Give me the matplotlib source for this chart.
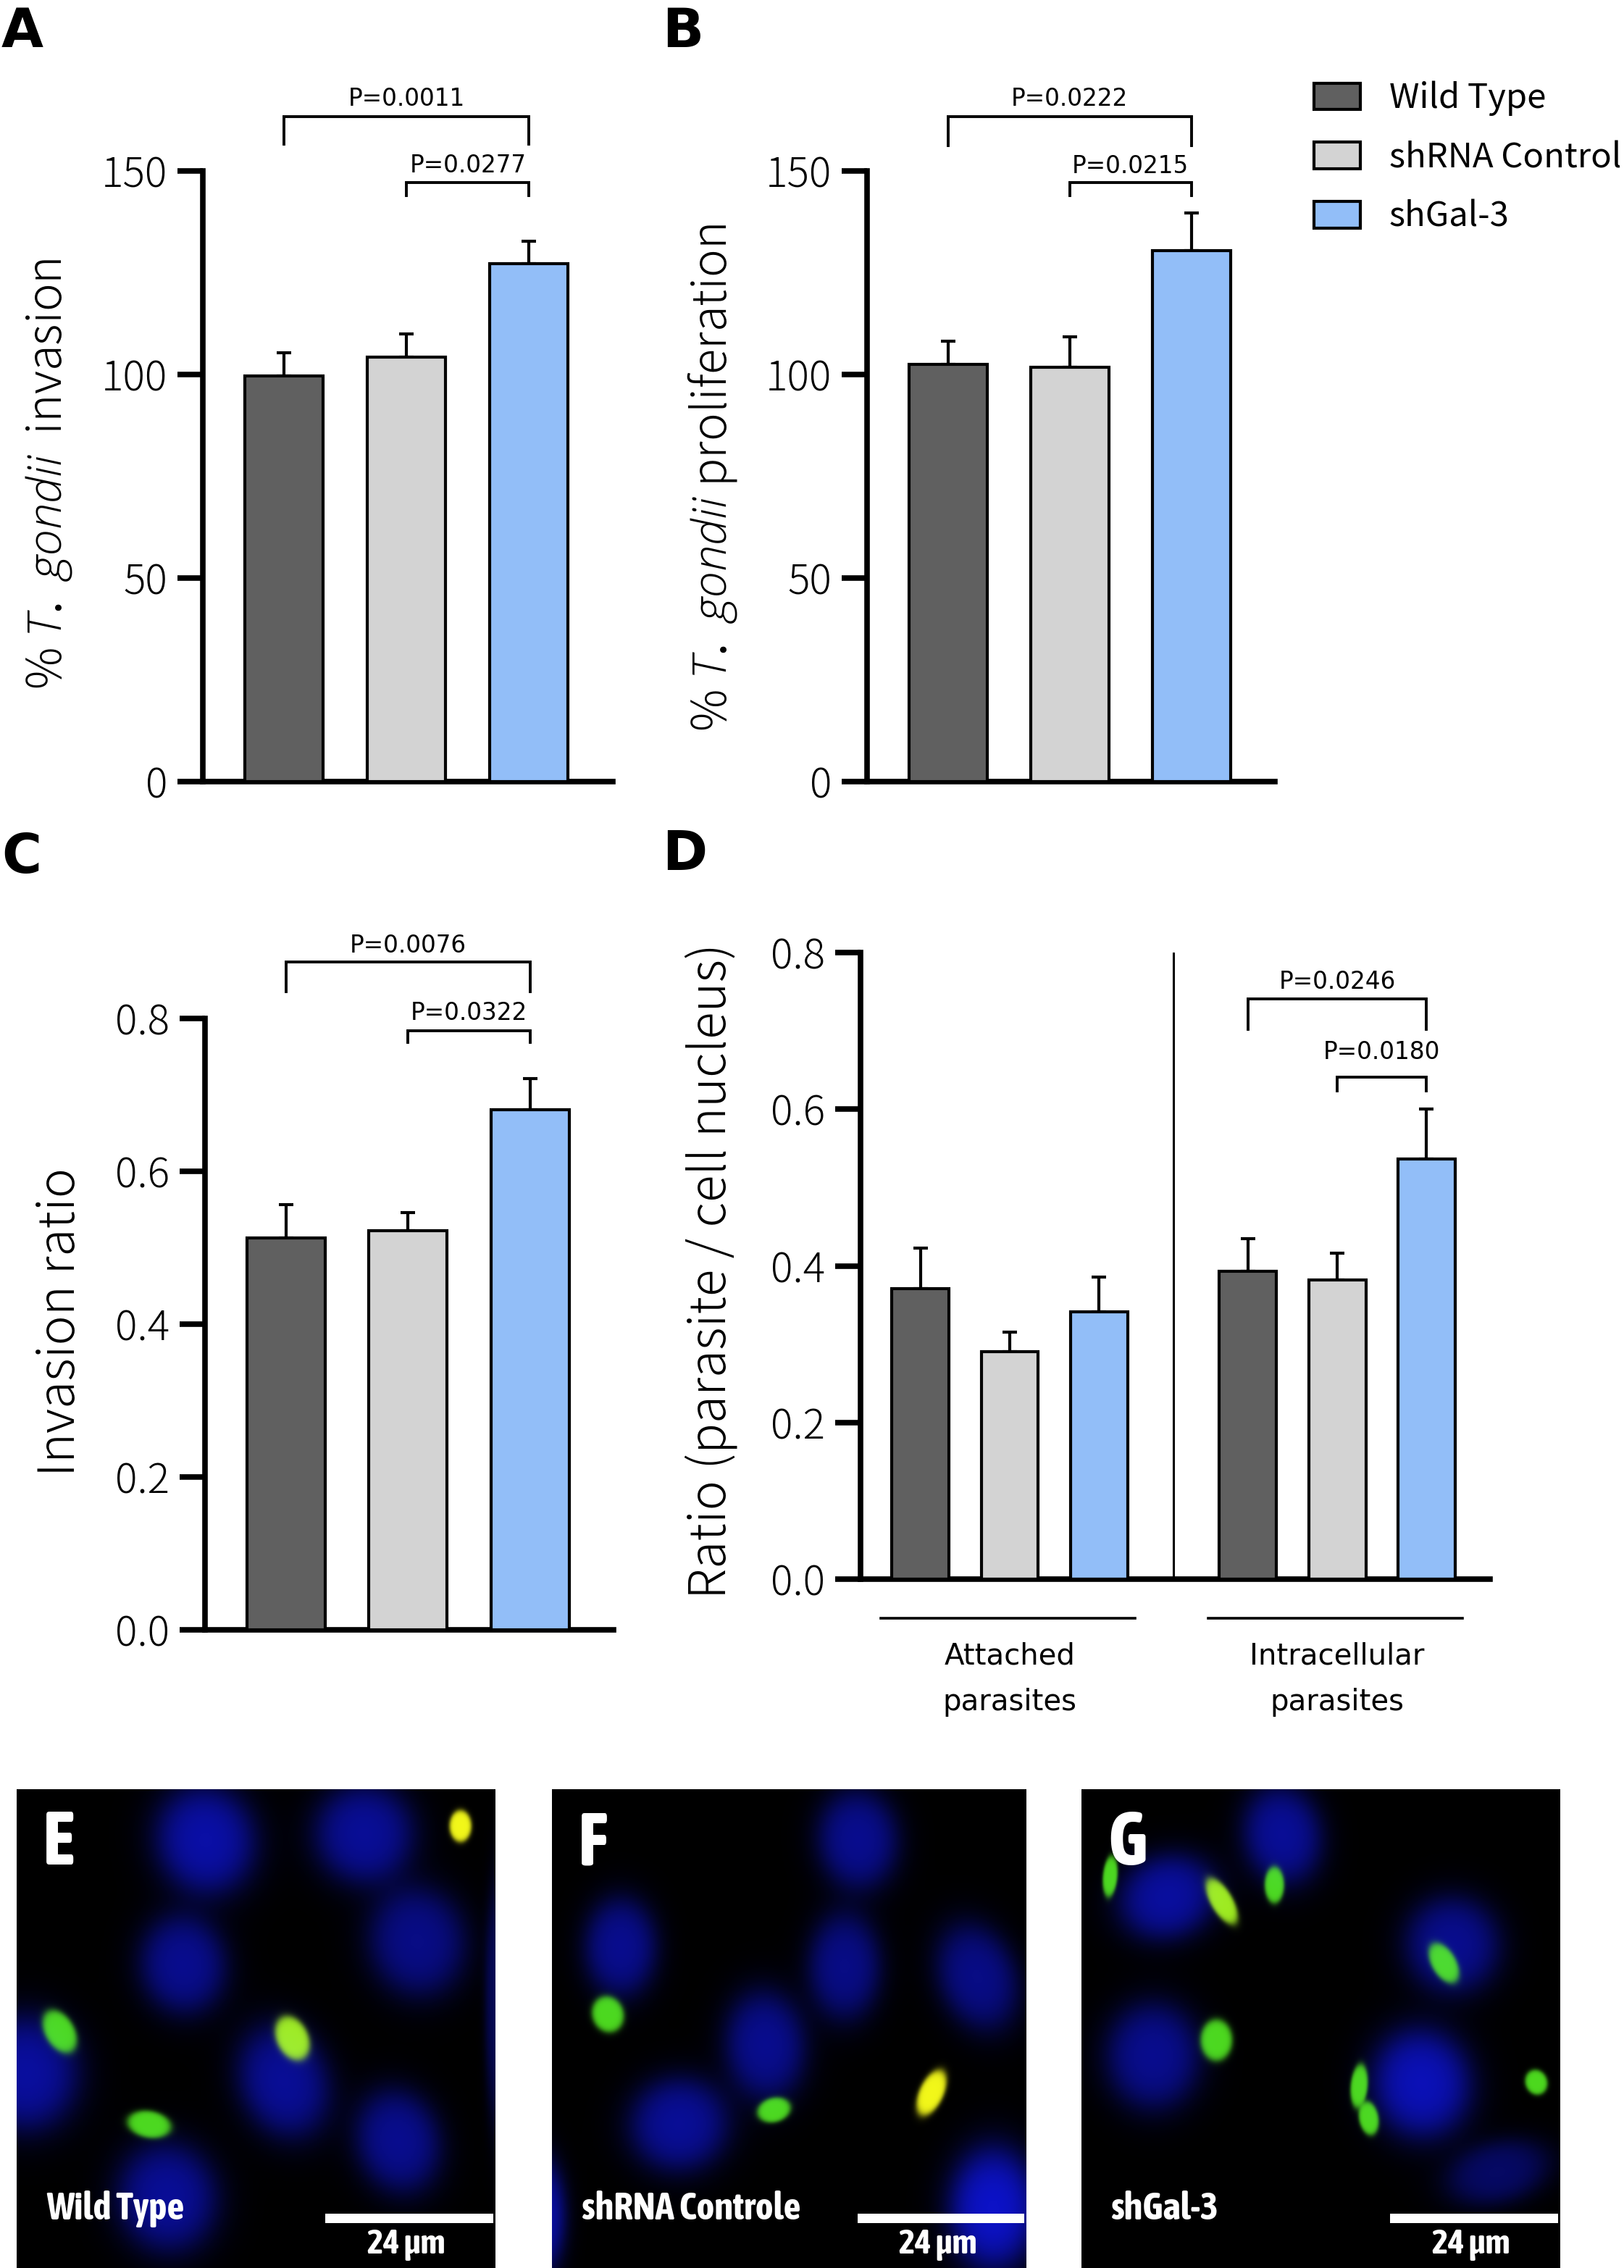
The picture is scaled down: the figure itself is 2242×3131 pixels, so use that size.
import numpy as np
import matplotlib
matplotlib.use("Agg")
import matplotlib.pyplot as plt
from matplotlib.patches import Patch, Rectangle
from matplotlib import font_manager as fm

# ---------------- data ----------------
groups = ["Wild Type", "shRNA Control", "shGal-3"]
bar_colors = ["#606060", "#d3d3d3", "#92bef8"]

# Panel A: % T. gondii invasion
a_vals = [99.6, 104.3, 127.2]
a_errs = [5.8, 5.6, 5.6]
a_pvals = [("P=0.0011", 0, 2, 163.4, 156.5, 166.1), ("P=0.0277", 1, 2, 147.1, 144.0, 149.6)]

# Panel B: % T. gondii proliferation
b_vals = [102.5, 101.8, 130.4]
b_errs = [5.6, 7.5, 9.2]
b_pvals = [("P=0.0222", 0, 2, 163.4, 156.3, 166.1), ("P=0.0215", 1, 2, 147.2, 144.0, 149.4)]

# Panel C: invasion ratio
c_vals = [0.513, 0.522, 0.681]
c_errs = [0.043, 0.024, 0.040]
c_pvals = [("P=0.0076", 0, 2, 0.874, 0.835, 0.886), ("P=0.0322", 1, 2, 0.784, 0.769, 0.7985)]

# Panel D: ratio parasite / cell nucleus
d_categories = ["Attached\nparasites", "Intracellular\nparasites"]
d_attached = [0.371, 0.290, 0.341]
d_attached_err = [0.052, 0.025, 0.045]
d_intra = [0.393, 0.382, 0.536]
d_intra_err = [0.042, 0.034, 0.064]
d_pvals = [("P=0.0246", 0, 2, 0.741, 0.702, 0.754), ("P=0.0180", 1, 2, 0.641, 0.6235, 0.6637)]

ab_ticks = [0, 50, 100, 150]
cd_ticks = [0.0, 0.2, 0.4, 0.6, 0.8]
cd_ticklabels = ["0.0", "0.2", "0.4", "0.6", "0.8"]

# Micrographs (schematic): nuclei (cx, cy, w, h, angle, intensity), parasites (cx, cy, w, h, angle, kind)
e_nuclei = [(.395, .106, .19, .21, -15, 1.0), (.726, .093, .19, .19, 25, 0.9), (.348, .366, .165, .19, -8, 0.85),
            (.837, .318, .185, .21, -10, 0.8), (.02, .593, .20, .22, 0, 0.95), (.558, .61, .17, .22, -20, 0.9),
            (.797, .735, .16, .20, -15, 0.85), (.315, .852, .19, .21, -10, 0.9), (1.0, .45, .04, .45, 0, 0.5)]
e_parasites = [(.927, .077, .045, .065, 0, "y"), (.09, .506, .06, .095, -30, "g"), (.576, .52, .065, .095, -25, "yg"),
               (.277, .70, .09, .055, 10, "g")]
f_nuclei = [(.145, .33, .14, .19, 0, 0.85), (.45, .535, .155, .21, -5, 0.85), (.268, .70, .19, .18, -10, 0.9),
            (-.02, .89, .09, .22, 0, 1.0), (.645, .105, .155, .19, -5, 0.85), (.617, .37, .14, .205, 0, 0.8),
            (.897, .392, .15, .21, -20, 0.8), (.93, .875, .17, .235, 0, 1.2)]
f_parasites = [(.118, .47, .065, .075, -20, "g"), (.468, .67, .07, .05, -15, "g"), (.80, .634, .05, .10, 25, "y")]
g_nuclei = [(.42, .096, .15, .19, -10, 0.9), (.18, .225, .19, .16, -20, 0.95), (.775, .325, .18, .185, -20, 0.85),
            (.15, .557, .18, .205, 0, 0.85), (.71, .614, .19, .21, -10, 1.1), (.87, .80, .20, .12, -15, 0.6)]
g_parasites = [(.06, .182, .03, .085, 5, "g"), (.293, .234, .045, .105, -30, "yg"), (.403, .20, .04, .075, 0, "g"),
               (.757, .363, .05, .09, -30, "g"), (.282, .524, .065, .085, 0, "g"), (.58, .62, .035, .09, 5, "g"),
               (.60, .687, .04, .07, -10, "g"), (.95, .612, .045, .052, -20, "g")]
micro_labels = [("E", "Wild Type"), ("F", "shRNA Controle"), ("G", "shGal-3")]
scale_text = "24 µm"

# ---------------- fonts ----------------
fonts_by_name = {}
for f in fm.fontManager.ttflist:
    fonts_by_name.setdefault(f.name, set()).add((f.style, f.weight))


def first_font(cands, default):
    for c in cands:
        if c in fonts_by_name:
            return c
    return default


BOLD_NARROW_FAM = first_font(['Asap Condensed', 'Liberation Sans Narrow', 'Roboto Condensed'], 'DejaVu Sans')
NARROW = dict(family=[BOLD_NARROW_FAM, 'DejaVu Sans'], weight='bold', stretch='condensed')
if 'Open Sans' in fonts_by_name and ('italic', 300) in fonts_by_name['Open Sans']:
    ITALIC_SPEC = 'Open Sans:italic:light'
elif 'Noto Sans' in fonts_by_name:
    ITALIC_SPEC = 'Noto Sans:italic'
else:
    ITALIC_SPEC = 'DejaVu Sans:italic'

plt.rcParams['font.family'] = ['Noto Sans CJK JP', 'DejaVu Sans']
plt.rcParams['mathtext.fontset'] = 'custom'
plt.rcParams['mathtext.it'] = ITALIC_SPEC
plt.rcParams['mathtext.rm'] = 'Noto Sans CJK JP'
plt.rcParams['axes.unicode_minus'] = False

W, H = 2242, 3131
fig = plt.figure(figsize=(W / 100, H / 100), dpi=100)
fig.patch.set_facecolor('white')

TICK_FS = 41
P_FS = 23.5
SPINE_LW = 5.5


def label_font(size):
    return dict(family=['Noto Sans CJK JP', 'DejaVu Sans'], fontsize=size, fontweight='light')


def fig_axes(left, top, right, bottom):
    return fig.add_axes([left / W, 1 - bottom / H, (right - left) / W, (bottom - top) / H])


def style_axes(ax, xlim, ylim, ticks, ticklabels):
    ax.set_xlim(*xlim)
    ax.set_ylim(*ylim)
    for s in ['top', 'right']:
        ax.spines[s].set_visible(False)
    for s in ['left', 'bottom']:
        ax.spines[s].set_linewidth(SPINE_LW)
        ax.spines[s].set_capstyle('projecting')
    ax.set_xticks([])
    ax.set_yticks(ticks)
    ax.set_yticklabels(ticklabels, fontweight='light')
    ax.tick_params(axis='y', length=25, width=SPINE_LW, pad=10, labelsize=TICK_FS)
    ax.patch.set_alpha(0)


def bars(ax, pos, vals, errs):
    ax.bar(pos, vals, width=0.64, color=bar_colors, edgecolor='black', linewidth=3, zorder=3)
    ax.errorbar(pos, vals, yerr=[np.zeros(len(vals)), errs], fmt='none', ecolor='black',
                elinewidth=3, capsize=7.5, capthick=3, zorder=2)


def brackets(ax, pos, pvals):
    for text, i, j, y, ydrop, ty in pvals:
        x1, x2 = pos[i], pos[j]
        ax.plot([x1, x1, x2, x2], [ydrop, y, y, ydrop], color='black', lw=2.8, clip_on=False,
                solid_joinstyle='miter', zorder=4)
        ax.text((x1 + x2) / 2, ty, text, ha='center', va='baseline', fontsize=P_FS,
                family=['DejaVu Sans'], clip_on=False)


def panel_letter(x, y, s):
    fig.text(x / W, 1 - y / H, s, fontsize=54, fontweight='bold', family=['DejaVu Sans'],
             ha='left', va='top')


pos3 = np.arange(3)
xlim3 = (-0.665, 2.685)

# ---- A ----
axA = fig_axes(280, 236, 846, 1079)
bars(axA, pos3, a_vals, a_errs)
style_axes(axA, xlim3, (0, 150), ab_ticks, [str(t) for t in ab_ticks])
brackets(axA, pos3, a_pvals)
axA.text(-0.376, 0.504, r'% $\mathit{T.\ gondii}$  invasion', transform=axA.transAxes, rotation=90,
         ha='center', va='center', **label_font(47))
panel_letter(2, 8, 'A')

# ---- B ----
axB = fig_axes(1197, 236, 1760, 1079)
bars(axB, pos3, b_vals, b_errs)
style_axes(axB, xlim3, (0, 150), ab_ticks, [str(t) for t in ab_ticks])
brackets(axB, pos3, b_pvals)
axB.text(-0.380, 0.498, r'% $\mathit{T.\ gondii}$ proliferation', transform=axB.transAxes, rotation=90,
         ha='center', va='center', **label_font(47))
panel_letter(914, 8, 'B')
handles = [Patch(facecolor=c, edgecolor='black', linewidth=3, label=g) for c, g in zip(bar_colors, groups)]
fig.legend(handles=handles, loc='upper left', bbox_to_anchor=(1814 / W, 1 - 112 / H),
           bbox_transform=fig.transFigure, frameon=False, fontsize=34, handlelength=1.35,
           handleheight=0.82, handletextpad=0.85, labelspacing=0.7, borderpad=0, borderaxespad=0)

# ---- C ----
axC = fig_axes(283, 1406, 847, 2250)
bars(axC, pos3, c_vals, c_errs)
style_axes(axC, xlim3, (0, 0.8), cd_ticks, cd_ticklabels)
brackets(axC, pos3, c_pvals)
axC.text(-0.353, 0.504, 'Invasion ratio', transform=axC.transAxes, rotation=90,
         ha='center', va='center', **label_font(50))
panel_letter(2, 1148, 'C')

# ---- D ----
axD = fig_axes(1188, 1315, 2057, 2180)
posD1 = np.arange(3)
posD2 = np.arange(3) + 3.667
bars(axD, posD1, d_attached, d_attached_err)
bars(axD, posD2, d_intra, d_intra_err)
style_axes(axD, (-0.671, 6.377), (0, 0.8), cd_ticks, cd_ticklabels)
brackets(axD, posD2, d_pvals)
sep = (posD1[-1] + posD2[0]) / 2
axD.plot([sep, sep], [0, 0.8], color='black', lw=2.2, zorder=1)
for p, lab in zip([posD1, posD2], d_categories):
    axD.plot([p[0] - 0.446, p[-1] + 0.40], [-0.050, -0.050], color='black', lw=2.6, clip_on=False)
    axD.text(p.mean(), -0.080, lab, ha='center', va='top', fontsize=29, family=['DejaVu Sans'],
             linespacing=1.75, clip_on=False)
axD.text(-0.238, 0.492, 'Ratio (parasite / cell nucleus)', transform=axD.transAxes, rotation=90,
         ha='center', va='center', **label_font(50))
panel_letter(914, 1144, 'D')


# ---- micrographs ----
def blob(u, v, cx, cy, w, h, ang, soft):
    t = np.deg2rad(ang)
    du, dv = u - cx, v - cy
    a = du * np.cos(t) + dv * np.sin(t)
    b = -du * np.sin(t) + dv * np.cos(t)
    r = np.sqrt((a / (w / 2)) ** 2 + (b / (h / 2)) ** 2)
    return 1 / (1 + np.exp((r - 1) / soft))


NUC_RGB = np.array([0.04, 0.06, 0.66])
PAR_RGB = {"g": np.array([0.30, 0.85, 0.12]), "yg": np.array([0.62, 0.92, 0.12]),
           "y": np.array([0.95, 0.97, 0.10])}


def render(nuclei, parasites, n=420):
    yy, xx = np.mgrid[0:n, 0:n]
    u = (xx + 0.5) / n
    v = (yy + 0.5) / n
    img = np.zeros((n, n, 3))
    for cx, cy, w, h, ang, inten in nuclei:
        img += inten * blob(u, v, cx, cy, w, h, ang, 0.22)[..., None] * NUC_RGB
    for cx, cy, w, h, ang, kind in parasites:
        m = blob(u, v, cx, cy, w, h, ang, 0.10)[..., None]
        img = img * (1 - 0.85 * m) + m * PAR_RGB[kind]
    return np.clip(img, 0, 1)


micro_specs = [((23, 2470, 684, 3131), e_nuclei, e_parasites),
               ((762, 2470, 1417, 3131), f_nuclei, f_parasites),
               ((1493, 2470, 2154, 3131), g_nuclei, g_parasites)]
for (box, nuc, par), (letter, name) in zip(micro_specs, micro_labels):
    ax = fig_axes(*box)
    ax.imshow(render(nuc, par), extent=(0, 1, 1, 0), interpolation='bilinear', aspect='auto')
    ax.set_xlim(0, 1)
    ax.set_ylim(1, 0)
    ax.axis('off')
    ax.text(0.055, 0.04, letter, color='white', fontsize=74, ha='left', va='top', **NARROW)
    ax.text(0.062, 0.898, name, color='white', fontsize=38, ha='left', va='baseline', **NARROW)
    ax.add_patch(Rectangle((0.645, 0.887), 0.351, 0.019, facecolor='white', edgecolor='none'))
    ax.text(0.813, 0.97, scale_text, color='white', fontsize=34, ha='center', va='baseline', **NARROW)

fig.savefig('out.png', dpi=100, facecolor='white')
